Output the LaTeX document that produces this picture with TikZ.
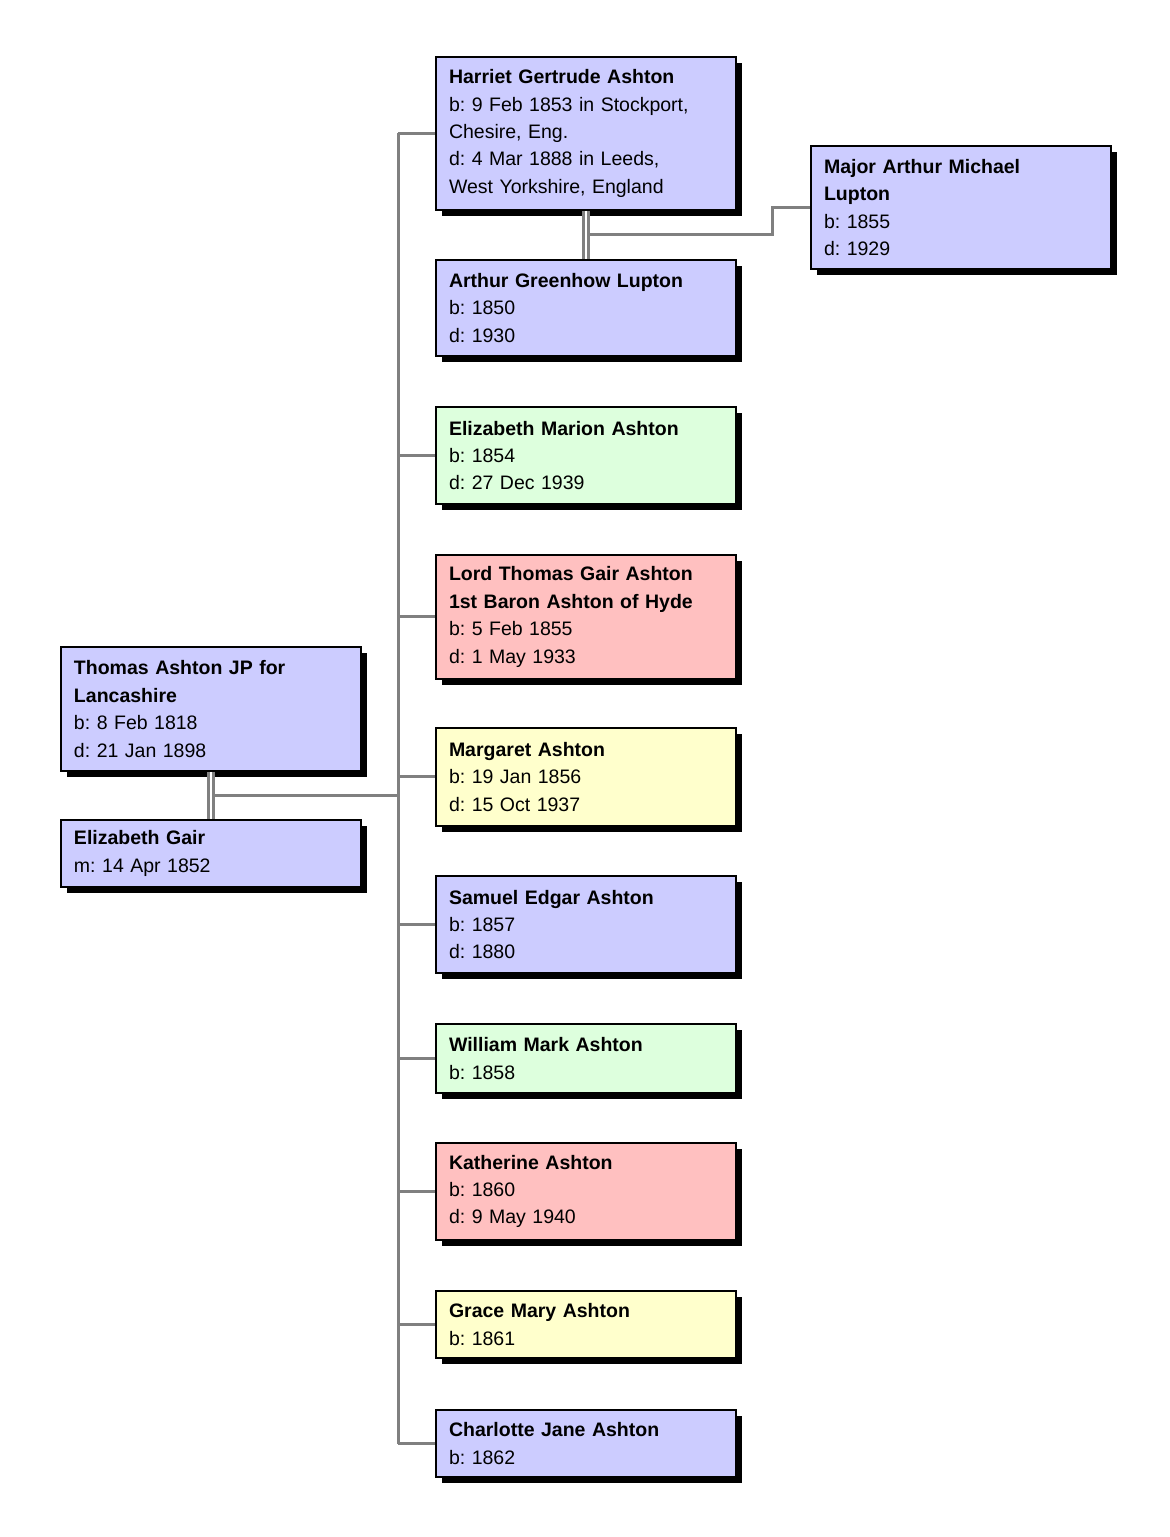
\documentclass[tikz,border=0pt]{standalone}
\usepackage{fontspec}
\setmainfont{Liberation Sans}
\usepackage{tikz}
\usetikzlibrary{shadows,calc}
\definecolor{pblue}{RGB}{204,204,255}
\definecolor{pgreen}{RGB}{221,255,221}
\definecolor{ppink}{RGB}{255,192,192}
\definecolor{pyellow}{RGB}{255,255,204}
\definecolor{lgray}{RGB}{128,128,128}
\frenchspacing

\begin{document}
\begin{tikzpicture}[x=0.02cm,y=-0.02cm,
  person/.style={draw=black,line width=0.04cm,anchor=north west,align=left,
    text width=5.48cm,inner xsep=0.26cm,inner ysep=0pt,minimum height=#1,
    font=\fontsize{11.1}{15.6}\selectfont,
    drop shadow={shadow xshift=0.12cm,shadow yshift=-0.12cm,opacity=1,fill=black}},
  person/.default=2cm,
  line/.style={draw=lgray,line width=0.06cm},
  couple/.style={draw=lgray,line width=0.06cm,double=white,double distance=0.04cm}]
  \useasboundingbox (0,0) rectangle (1169,1537);

  % parents
  \node[person=2.48cm,fill=pblue] (ta) at (60,646) {\textbf{Thomas Ashton JP for}\\\textbf{Lancashire}\\b: 8 Feb 1818\\d: 21 Jan 1898};
  \node[person=1.34cm,fill=pblue] (eg) at (60,819) {\textbf{Elizabeth Gair}\\m: 14 Apr 1852};

  % children
  \node[person=3.06cm,fill=pblue] (hga) at (435,56) {\textbf{Harriet Gertrude Ashton}\\b: 9 Feb 1853 in Stockport,\\Chesire, Eng.\\d: 4 Mar 1888 in Leeds,\\West Yorkshire, England};
  \node[person=1.92cm,fill=pblue] (agl) at (435,259) {\textbf{Arthur Greenhow Lupton}\\b: 1850\\d: 1930};
  \node[person=2.46cm,fill=pblue] (ama) at (810,145) {\textbf{Major Arthur Michael}\\\textbf{Lupton}\\b: 1855\\d: 1929};
  \node[person=1.94cm,fill=pgreen] (ema) at (435,406) {\textbf{Elizabeth Marion Ashton}\\b: 1854\\d: 27 Dec 1939};
  \node[person=2.48cm,fill=ppink] (ltg) at (435,554) {\textbf{Lord Thomas Gair Ashton}\\\textbf{1st Baron Ashton of Hyde}\\b: 5 Feb 1855\\d: 1 May 1933};
  \node[person=1.96cm,fill=pyellow] (ma) at (435,727) {\textbf{Margaret Ashton}\\b: 19 Jan 1856\\d: 15 Oct 1937};
  \node[person=1.94cm,fill=pblue] (sea) at (435,875) {\textbf{Samuel Edgar Ashton}\\b: 1857\\d: 1880};
  \node[person=1.38cm,fill=pgreen] (wma) at (435,1023) {\textbf{William Mark Ashton}\\b: 1858};
  \node[person=1.94cm,fill=ppink] (ka) at (435,1142) {\textbf{Katherine Ashton}\\b: 1860\\d: 9 May 1940};
  \node[person=1.34cm,fill=pyellow] (gma) at (435,1290) {\textbf{Grace Mary Ashton}\\b: 1861};
  \node[person=1.34cm,fill=pblue] (cja) at (435,1409) {\textbf{Charlotte Jane Ashton}\\b: 1862};

  \coordinate (spine) at (398,0);
  \coordinate (jog) at (772,0);

  \draw[line] (spine|-hga.west) -- (spine|-cja.west);
  \foreach \k in {hga,ema,ltg,ma,sea,wma,ka,gma,cja}
    \draw[line] (spine|-\k.west) -- (\k.west);

  \draw[couple] (ta.south) -- (eg.north);
  \coordinate (pm) at ($(ta.south)!.5!(eg.north)+(3,0)$);
  \draw[line] (pm) -- (spine|-pm);

  \draw[couple] (hga.south) -- (agl.north);
  \coordinate (hm) at ($(hga.south)!.5!(agl.north)+(3,0)$);
  \draw[line] (hm) -| (jog|-ama.west) -- (ama.west);
\end{tikzpicture}
\end{document}
